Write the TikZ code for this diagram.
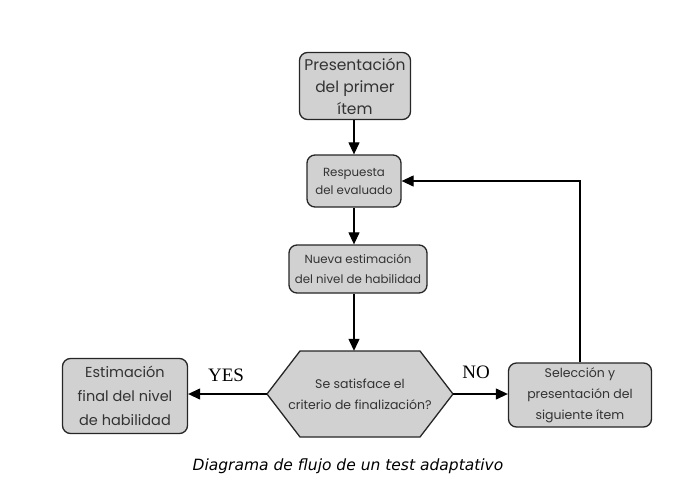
\documentclass[tikz,border=0pt]{standalone}
\usepackage{fontspec}
\setmainfont{Poppins}
\newfontfamily\capfont{DejaVu Sans}
\newfontfamily\lblfont{Liberation Serif}
\usetikzlibrary{arrows.meta}
\tikzset{
	caja/.style = {draw=black!85, line width=1.3pt, fill=black!18, rounded corners=8pt,
		align=center, inner sep=1pt, text=black!80},
	flecha/.style = {line width=1.2pt, -{Triangle[length=12pt,width=11pt]}},
	rama/.style = {font=\lblfont\fontsize{19}{19}\selectfont},
}
\begin{document}
\begin{tikzpicture}[x=1pt,y=-1pt]
		\useasboundingbox (0,0) rectangle (697,499);
		
		\node (Pr) at (355,86) [caja, minimum width=111pt, minimum height=67pt,
			font=\fontsize{15.5}{22}\selectfont] {Presentación\\del primer\\ítem};
		\node (Re) at (354,181) [caja, minimum width=94pt, minimum height=52pt,
			font=\fontsize{11.8}{18}\selectfont] {Respuesta\\del evaluado};
		\node (Ne) at (358,269) [caja, minimum width=138pt, minimum height=48pt,
			font=\fontsize{11.8}{20}\selectfont] {Nueva estimación\\del nivel de habilidad};
		
		% hexagono de decision
		\draw [draw=black!85, line width=1.3pt, fill=black!18] (360,394) ++(-93,0) -- ++(33,-43)
			-- ++(120,0) -- ++(33,43) -- ++(-33,43) -- ++(-120,0) -- cycle;
		\node (Cr) at (360,394) [minimum width=186pt, minimum height=86pt, inner sep=0pt,
			align=center, text=black!80, font=\fontsize{12.5}{21}\selectfont]
			{Se satisface el\\criterio de finalización?};
		
		\node (Ef) at (125,396) [caja, minimum width=125pt, minimum height=75pt,
			font=\fontsize{14.5}{24}\selectfont] {Estimación\\final del nivel\\de habilidad};
		\node (Se) at (580,395) [caja, minimum width=143pt, minimum height=64pt,
			font=\fontsize{12.5}{21}\selectfont] {Selección y\\presentación del\\siguiente ítem};
		
		\draw [flecha] (Pr.south -| Re.south) -- (Re.north);
		\draw [flecha] (Re.south) -- (Re.south |- Ne.north);
		\draw [flecha] (Ne.south -| Re.south) -- (Re.south |- Cr.north);
		\draw [flecha] (Cr.west) -- (Ef.east |- Cr.west);
		\draw [flecha] (Cr.east) -- (Se.west |- Cr.east);
		\draw [flecha] (Se.north) -- (Se.north |- Re.east) -- (Re.east);
		
		\node (yes) at (226,375) [rama] {YES};
		\node (no) at (476,372) [rama] {NO};
		
		\node (cap) at (348,466) [font=\capfont\itshape\fontsize{15.5}{18}\selectfont] {Diagrama de flujo de un test adaptativo};
		\end{tikzpicture}
\end{document}
